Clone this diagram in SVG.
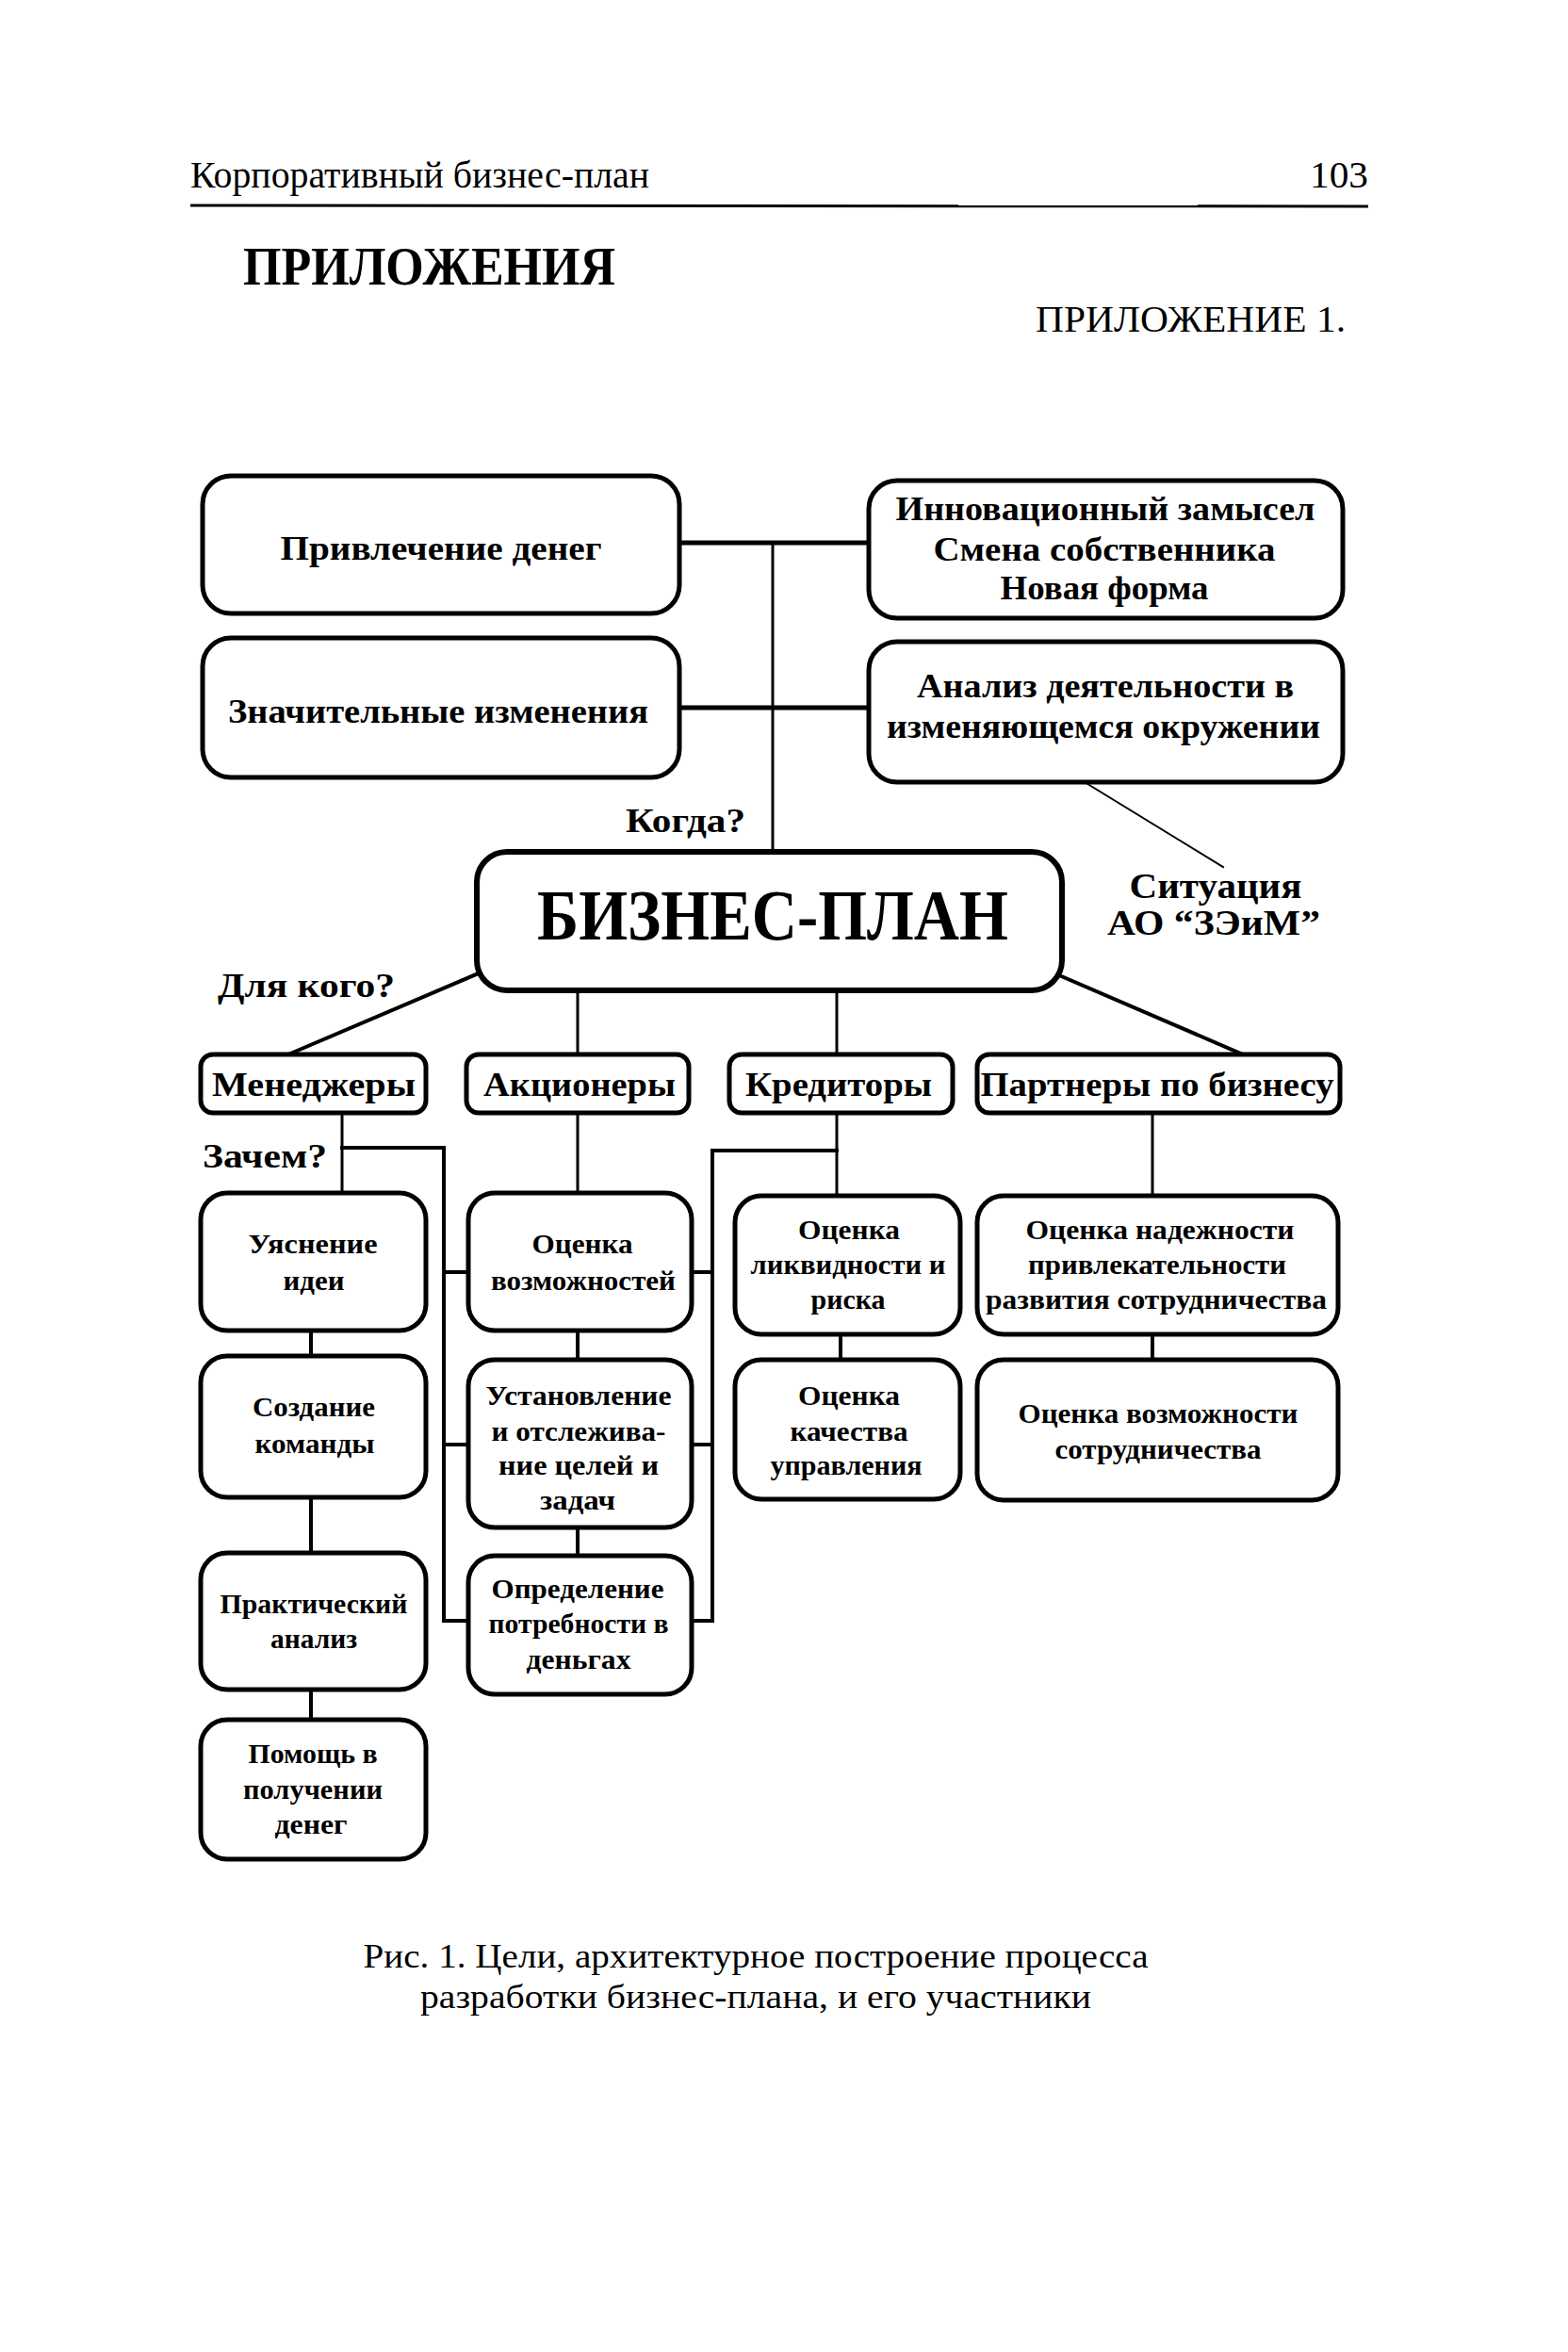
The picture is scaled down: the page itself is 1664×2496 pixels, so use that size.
<svg xmlns="http://www.w3.org/2000/svg" width="1664" height="2496" viewBox="0 0 1664 2496">
<style>
.bx{fill:#fff;stroke:#000;stroke-width:5}
.bp{fill:#fff;stroke:#000;stroke-width:6}
.c{fill:none;stroke:#000;stroke-linecap:square}
.t{font-family:"Liberation Serif","Times New Roman",serif;fill:#000}
.b{font-weight:bold}
.m{text-anchor:middle}
</style>
<rect width="1664" height="2496" fill="#fff"/>
<g id="page-header">
<text class="t" x="202" y="199" font-size="40" textLength="487" lengthAdjust="spacingAndGlyphs">Корпоративный бизнес-план</text>
<text class="t" x="1390" y="199" font-size="40" textLength="62" lengthAdjust="spacingAndGlyphs">103</text>
<line x1="202" y1="218" x2="1452" y2="219" stroke="#000" stroke-width="3"/>
<text class="t b" x="258" y="302" font-size="56" textLength="395" lengthAdjust="spacingAndGlyphs">ПРИЛОЖЕНИЯ</text>
<text class="t" x="1099" y="352" font-size="40" textLength="329" lengthAdjust="spacingAndGlyphs">ПРИЛОЖЕНИЕ 1.</text>
</g>
<g id="connectors">
<path class="c" stroke-width="5" d="M721 576H922M721 751H922"/>
<path class="c" stroke-width="3" d="M820 576V904"/>
<path class="c" stroke-width="2" d="M1151 830L1298 920"/>
<path class="c" stroke-width="4" d="M510 1032L306 1119M1124 1035L1326 1122"/>
<path class="c" stroke-width="3" d="M613 1051V1119M888 1051V1119"/>
<path class="c" stroke-width="3" d="M363 1181V1266M613 1181V1266M888 1181V1269M1223 1181V1269"/>
<path class="c" stroke-width="4" d="M363 1218H471V1720H497M471 1350H497M471 1533H497"/>
<path class="c" stroke-width="4" d="M888 1221H756V1720H734M734 1350H756M734 1533H756"/>
<path class="c" stroke-width="4" d="M330 1412V1439M330 1589V1648M330 1793V1825M613 1412V1443M613 1621V1651M892 1416V1443M1223 1416V1443"/>
</g>
<g id="n-privlechenie">
<rect class="bx" x="215" y="505" width="506" height="146" rx="30"/>
<text class="t b m" x="468" y="594" font-size="36" textLength="341" lengthAdjust="spacingAndGlyphs">Привлечение денег</text>
</g>
<g id="n-innovacii">
<rect class="bx" x="922" y="510" width="503" height="146" rx="30"/>
<text class="t b m" x="1173" y="552" font-size="36" textLength="445" lengthAdjust="spacingAndGlyphs">Инновационный замысел</text>
<text class="t b m" x="1172" y="595" font-size="36" textLength="363" lengthAdjust="spacingAndGlyphs">Смена собственника</text>
<text class="t b m" x="1172" y="636" font-size="36" textLength="221" lengthAdjust="spacingAndGlyphs">Новая форма</text>
</g>
<g id="n-izmeneniya">
<rect class="bx" x="215" y="677" width="506" height="148" rx="30"/>
<text class="t b m" x="465" y="767" font-size="36" textLength="446" lengthAdjust="spacingAndGlyphs">Значительные изменения</text>
</g>
<g id="n-analiz">
<rect class="bx" x="922" y="681" width="503" height="149" rx="30"/>
<text class="t b m" x="1173" y="740" font-size="36" textLength="400" lengthAdjust="spacingAndGlyphs">Анализ деятельности в</text>
<text class="t b m" x="1171" y="783" font-size="36" textLength="460" lengthAdjust="spacingAndGlyphs">изменяющемся окружении</text>
</g>
<g id="labels">
<text class="t b" x="664" y="883" font-size="36" textLength="127" lengthAdjust="spacingAndGlyphs">Когда?</text>
<text class="t b m" x="1290" y="953" font-size="38" textLength="183" lengthAdjust="spacingAndGlyphs">Ситуация</text>
<text class="t b m" x="1288" y="992" font-size="38" textLength="226" lengthAdjust="spacingAndGlyphs">АО “ЗЭиМ”</text>
<text class="t b" x="231" y="1058" font-size="36" textLength="188" lengthAdjust="spacingAndGlyphs">Для кого?</text>
<text class="t b" x="215" y="1239" font-size="36" textLength="132" lengthAdjust="spacingAndGlyphs">Зачем?</text>
</g>
<g id="n-biznes-plan">
<rect class="bp" x="506" y="904" width="621" height="147" rx="32"/>
<text class="t b m" x="820" y="997" font-size="76" textLength="500" lengthAdjust="spacingAndGlyphs">БИЗНЕС-ПЛАН</text>
</g>
<g id="n-menedzhery">
<rect class="bx" x="213" y="1119" width="239" height="62" rx="13"/>
<text class="t b m" x="333" y="1163" font-size="36" textLength="216" lengthAdjust="spacingAndGlyphs">Менеджеры</text>
</g>
<g id="n-akcionery">
<rect class="bx" x="495" y="1119" width="236" height="62" rx="13"/>
<text class="t b m" x="615" y="1163" font-size="36" textLength="204" lengthAdjust="spacingAndGlyphs">Акционеры</text>
</g>
<g id="n-kreditory">
<rect class="bx" x="774" y="1119" width="237" height="62" rx="13"/>
<text class="t b m" x="890" y="1163" font-size="36" textLength="198" lengthAdjust="spacingAndGlyphs">Кредиторы</text>
</g>
<g id="n-partnery">
<rect class="bx" x="1037" y="1119" width="385" height="62" rx="13"/>
<text class="t b m" x="1228" y="1163" font-size="36" textLength="375" lengthAdjust="spacingAndGlyphs">Партнеры по бизнесу</text>
</g>
<g id="n-uyasnenie">
<rect class="bx" x="213" y="1266" width="239" height="146" rx="28"/>
<text class="t b m" x="332" y="1330" font-size="29" textLength="137" lengthAdjust="spacingAndGlyphs">Уяснение</text>
<text class="t b m" x="333" y="1369" font-size="29" textLength="65" lengthAdjust="spacingAndGlyphs">идеи</text>
</g>
<g id="n-sozdanie">
<rect class="bx" x="213" y="1439" width="239" height="150" rx="28"/>
<text class="t b m" x="333" y="1503" font-size="29" textLength="130" lengthAdjust="spacingAndGlyphs">Создание</text>
<text class="t b m" x="334" y="1542" font-size="29" textLength="127" lengthAdjust="spacingAndGlyphs">команды</text>
</g>
<g id="n-prakticheskiy">
<rect class="bx" x="213" y="1648" width="239" height="145" rx="28"/>
<text class="t b m" x="333" y="1712" font-size="29" textLength="199" lengthAdjust="spacingAndGlyphs">Практический</text>
<text class="t b m" x="333" y="1749" font-size="29" textLength="92" lengthAdjust="spacingAndGlyphs">анализ</text>
</g>
<g id="n-pomoshch">
<rect class="bx" x="213" y="1825" width="239" height="148" rx="28"/>
<text class="t b m" x="332" y="1871" font-size="29" textLength="137" lengthAdjust="spacingAndGlyphs">Помощь в</text>
<text class="t b m" x="332" y="1909" font-size="29" textLength="148" lengthAdjust="spacingAndGlyphs">получении</text>
<text class="t b m" x="330" y="1946" font-size="29" textLength="77" lengthAdjust="spacingAndGlyphs">денег</text>
</g>
<g id="n-ocenka-vozm">
<rect class="bx" x="497" y="1266" width="237" height="146" rx="28"/>
<text class="t b m" x="618" y="1330" font-size="29" textLength="107" lengthAdjust="spacingAndGlyphs">Оценка</text>
<text class="t b m" x="619" y="1369" font-size="29" textLength="196" lengthAdjust="spacingAndGlyphs">возможностей</text>
</g>
<g id="n-ustanovlenie">
<rect class="bx" x="497" y="1443" width="237" height="178" rx="28"/>
<text class="t b m" x="614" y="1491" font-size="29" textLength="197" lengthAdjust="spacingAndGlyphs">Установление</text>
<text class="t b m" x="614" y="1529" font-size="29" textLength="185" lengthAdjust="spacingAndGlyphs">и отслежива-</text>
<text class="t b m" x="614" y="1565" font-size="29" textLength="170" lengthAdjust="spacingAndGlyphs">ние целей и</text>
<text class="t b m" x="613" y="1602" font-size="29" textLength="80" lengthAdjust="spacingAndGlyphs">задач</text>
</g>
<g id="n-opredelenie">
<rect class="bx" x="497" y="1651" width="237" height="147" rx="28"/>
<text class="t b m" x="613" y="1696" font-size="29" textLength="183" lengthAdjust="spacingAndGlyphs">Определение</text>
<text class="t b m" x="614" y="1733" font-size="29" textLength="191" lengthAdjust="spacingAndGlyphs">потребности в</text>
<text class="t b m" x="614" y="1771" font-size="29" textLength="111" lengthAdjust="spacingAndGlyphs">деньгах</text>
</g>
<g id="n-likvidnost">
<rect class="bx" x="780" y="1269" width="239" height="147" rx="28"/>
<text class="t b m" x="901" y="1315" font-size="29" textLength="108" lengthAdjust="spacingAndGlyphs">Оценка</text>
<text class="t b m" x="900" y="1352" font-size="29" textLength="207" lengthAdjust="spacingAndGlyphs">ликвидности и</text>
<text class="t b m" x="900" y="1389" font-size="29" textLength="79" lengthAdjust="spacingAndGlyphs">риска</text>
</g>
<g id="n-kachestvo">
<rect class="bx" x="780" y="1443" width="239" height="148" rx="28"/>
<text class="t b m" x="901" y="1491" font-size="29" textLength="108" lengthAdjust="spacingAndGlyphs">Оценка</text>
<text class="t b m" x="901" y="1529" font-size="29" textLength="125" lengthAdjust="spacingAndGlyphs">качества</text>
<text class="t b m" x="898" y="1565" font-size="29" textLength="161" lengthAdjust="spacingAndGlyphs">управления</text>
</g>
<g id="n-nadezhnost">
<rect class="bx" x="1037" y="1269" width="383" height="147" rx="28"/>
<text class="t b m" x="1231" y="1315" font-size="29" textLength="285" lengthAdjust="spacingAndGlyphs">Оценка надежности</text>
<text class="t b m" x="1228" y="1352" font-size="29" textLength="274" lengthAdjust="spacingAndGlyphs">привлекательности</text>
<text class="t b m" x="1227" y="1389" font-size="29" textLength="362" lengthAdjust="spacingAndGlyphs">развития сотрудничества</text>
</g>
<g id="n-sotrudnichestvo">
<rect class="bx" x="1037" y="1443" width="383" height="149" rx="28"/>
<text class="t b m" x="1229" y="1510" font-size="29" textLength="297" lengthAdjust="spacingAndGlyphs">Оценка возможности</text>
<text class="t b m" x="1229" y="1548" font-size="29" textLength="219" lengthAdjust="spacingAndGlyphs">сотрудничества</text>
</g>
<g id="caption">
<text class="t m" x="802" y="2088" font-size="36" textLength="833" lengthAdjust="spacingAndGlyphs">Рис. 1. Цели, архитектурное построение процесса</text>
<text class="t m" x="802" y="2131" font-size="36" textLength="712" lengthAdjust="spacingAndGlyphs">разработки бизнес-плана, и его участники</text>
</g>
</svg>
